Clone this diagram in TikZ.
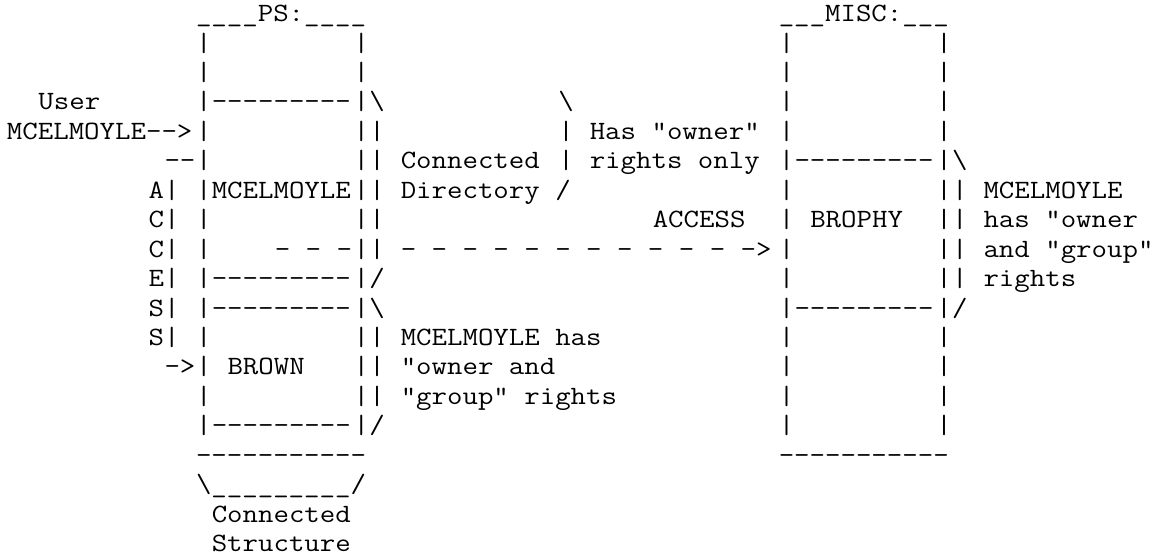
\documentclass[tikz,border=0pt]{standalone}
\usepackage{fontspec}
\setmonofont[FakeStretch=1.1364]{Latin Modern Mono}

\begin{document}
\begin{tikzpicture}[x=7.875pt,y=-14.725pt]
    \tikzstyle{asc}=[inner sep=0pt, outer sep=0pt, anchor=base west, text=black, font=\ttfamily\fontsize{13.2pt}{14pt}\selectfont]
    \useasboundingbox (-0.444,0.267) rectangle (72.95,19.15);

    % user and access letters
    \node[asc] (user)   at (2,4)  {User};
    \node[asc] (usrin)  at (0,5)  {MCELMOYLE-->};
    \node[asc] (acctop) at (10,6) {--};
    \foreach \ch [count=\i from 7] in {A,C,C,E,S,S}
      \node[asc] (acc\i) at (9,\i) {\ch|};
    \node[asc] (accin)  at (10,13) {->};

    % PS: volume
    \node[asc] (pstitle) at (12,1) {\_\_\_\_PS:\_\_\_\_};
    \foreach \r in {2,...,15} {
      \node[asc] (psl\r) at (12,\r) {|};
      \node[asc] (psr\r) at (22,\r) {|};
    }
    \node[asc] (psline4)  at (13,4)  {---------};
    \node[asc] (mcel)     at (13,7)  {MCELMOYLE};
    \node[asc] (psdash)   at (17,9)  {- - -};
    \node[asc] (psline10) at (13,10) {---------};
    \node[asc] (psline11) at (13,11) {---------};
    \node[asc] (brown)    at (14,13) {BROWN};
    \node[asc] (psline15) at (13,15) {---------};
    \node[asc] (psbase)   at (12,16) {-----------};
    \node[asc] (psbrace)  at (12,17) {\textbackslash\_\_\_\_\_\_\_\_\_/};
    \node[asc] (cstruct1) at (13,18) {Connected};
    \node[asc] (cstruct2) at (13,19) {Structure};

    % brace of the connected directory
    \node[asc] (dtop) at (23,4) {\textbackslash};
    \foreach \r in {5,...,9}
      \node[asc] (dbar\r) at (23,\r) {|};
    \node[asc] (dbot) at (23,10) {/};
    \node[asc] (cdir1) at (25,6) {Connected};
    \node[asc] (cdir2) at (25,7) {Directory /};

    % brace of BROWN
    \node[asc] (btop) at (23,11) {\textbackslash};
    \foreach \r in {12,...,14}
      \node[asc] (bbar\r) at (23,\r) {|};
    \node[asc] (bbot) at (23,15) {/};
    \node[asc] (bnote1) at (25,12) {MCELMOYLE has};
    \node[asc] (bnote2) at (25,13) {"owner and};
    \node[asc] (bnote3) at (25,14) {"group" rights};

    % owner rights brace
    \node[asc] (otop) at (35,4) {\textbackslash};
    \node[asc] (obar5) at (35,5) {|};
    \node[asc] (obar6) at (35,6) {|};
    \node[asc] (onote1) at (37,5) {Has "owner"};
    \node[asc] (onote2) at (37,6) {rights only};

    % access arrow
    \node[asc] (access) at (41,8) {ACCESS};
    \node[asc] (accarr) at (25,9) {- - - - - - - - - - - ->};

    % MISC: volume
    \node[asc] (misctitle) at (49,1) {\_\_\_MISC:\_\_\_};
    \foreach \r in {2,...,15} {
      \node[asc] (ml\r) at (49,\r) {|};
      \node[asc] (mr\r) at (59,\r) {|};
    }
    \node[asc] (mline6)  at (50,6)  {---------};
    \node[asc] (brophy)  at (51,8)  {BROPHY};
    \node[asc] (mline11) at (50,11) {---------};
    \node[asc] (mbase)   at (49,16) {-----------};

    % brace of BROPHY
    \node[asc] (mtop) at (60,6) {\textbackslash};
    \foreach \r in {7,...,10}
      \node[asc] (mbar\r) at (60,\r) {|};
    \node[asc] (mbot) at (60,11) {/};
    \node[asc] (mnote1) at (62,7)  {MCELMOYLE};
    \node[asc] (mnote2) at (62,8)  {has "owner};
    \node[asc] (mnote3) at (62,9)  {and "group"};
    \node[asc] (mnote4) at (62,10) {rights};
\end{tikzpicture}
\end{document}
